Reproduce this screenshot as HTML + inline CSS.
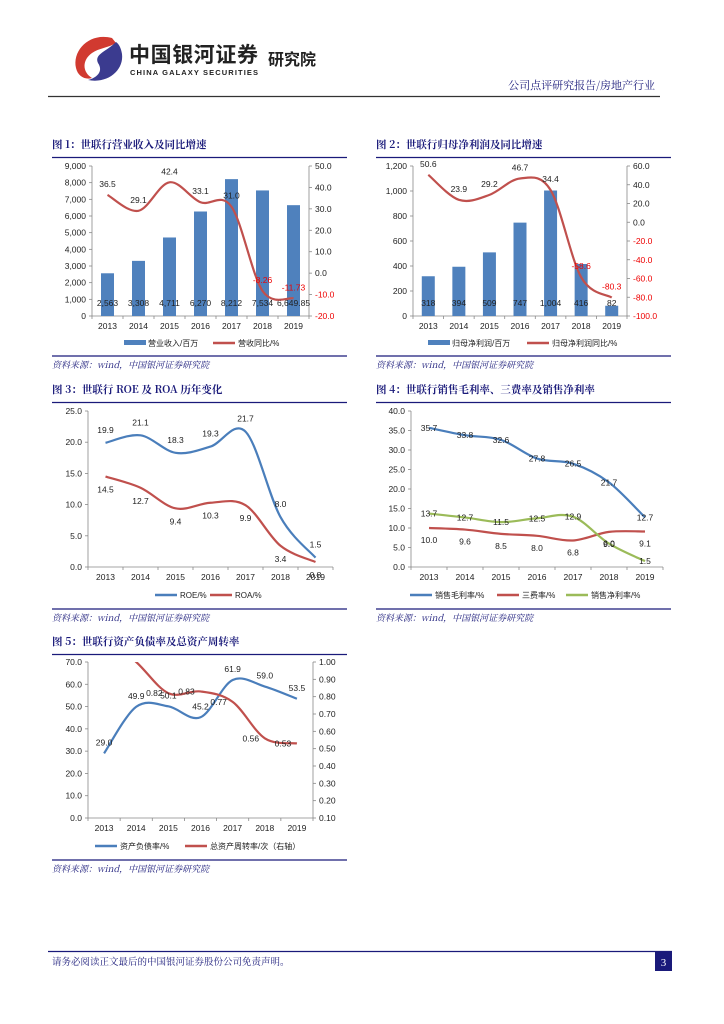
<!DOCTYPE html>
<html><head><meta charset="utf-8">
<style>
html,body{margin:0;padding:0;background:#fff;}
svg{display:block;font-family:"Liberation Sans","Noto Sans CJK SC",sans-serif;}
</style></head>
<body>
<svg id="page" width="724" height="1024" viewBox="0 0 724 1024" xmlns="http://www.w3.org/2000/svg">
<g>
  <g>
    <path d="M112,38 C90,32 72,50 76,68 C78,77 86,80 92,78 C82,72 82,60 92,53 C99,48 108,48 116,43 Z" fill="#d13a30"/>
    <path d="M116,42 C106,52 94,54 98,63 C104,72 96,78 88,80 C108,84 124,70 122,54 C121,48 119,44 116,42 Z" fill="#3b3b8f"/>
  </g>
  <text x="129" y="62" font-size="21" font-weight="bold" fill="#222" textLength="129" font-family="'Noto Sans CJK SC',sans-serif">中国银河证券</text>
  <text x="130" y="75" font-size="7.5" font-weight="bold" fill="#222" textLength="128">CHINA GALAXY SECURITIES</text>
  <text x="268" y="65" font-size="16" font-weight="bold" fill="#222" font-family="'Noto Sans CJK SC',sans-serif">研究院</text>
  <text x="655" y="89" font-size="11" fill="#1a1a7a" text-anchor="end" font-family="'Noto Serif CJK SC',serif">公司点评研究报告/房地产行业</text>
  <line x1="48" y1="96.5" x2="660" y2="96.5" stroke="#333" stroke-width="1.2"/>
</g>
<g id="charts"></g>
<g>
  <line x1="48" y1="951.5" x2="672" y2="951.5" stroke="#1a1a7a" stroke-width="1.2"/>
  <text x="52" y="965" font-size="9.5" fill="#1a1a7a" font-family="'Noto Serif CJK SC',serif">请务必阅读正文最后的中国银河证券股份公司免责声明。</text>
  <rect x="655" y="952" width="17" height="19" fill="#1a1a7a"/>
  <text x="663.5" y="966" font-size="11" fill="#fff" text-anchor="middle" font-family="'Liberation Serif',serif">3</text>
</g>
</svg>
<script>
const years = ['2013','2014','2015','2016','2017','2018','2019'];
const revenue = [2563, 3308, 4711, 6270, 8212, 7534, 6649.85];
const revenueLabels = ['2,563','3,308','4,711','6,270','8,212','7,534','6,649.85'];
const revenueYoY = [36.5, 29.1, 42.4, 33.1, 31.0, -8.26, -11.73];
const revenueYoYLabels = ['36.5','29.1','42.4','33.1','31.0','-8.26','-11.73'];
const netProfit = [318, 394, 509, 747, 1004, 416, 82];
const netProfitLabels = ['318','394','509','747','1,004','416','82'];
const netProfitYoY = [50.6, 23.9, 29.2, 46.7, 34.4, -58.6, -80.3];
const netProfitYoYLabels = ['50.6','23.9','29.2','46.7','34.4','-58.6','-80.3'];
const roe = [19.9, 21.1, 18.3, 19.3, 21.7, 8.0, 1.5];
const roa = [14.5, 12.7, 9.4, 10.3, 9.9, 3.4, 0.8];
const grossMargin = [35.7, 33.8, 32.6, 27.8, 26.5, 21.7, 12.7];
const expenseRatio = [10.0, 9.6, 8.5, 8.0, 6.8, 9.0, 9.1];
const netMargin = [13.7, 12.7, 11.5, 12.5, 12.9, 6.0, 1.5];
const debtRatio = [29.0, 49.9, 50.1, 45.2, 61.9, 59.0, 53.5];
const assetTurnover = [1.15, 1.0, 0.82, 0.83, 0.77, 0.56, 0.53];
const ticks1L = ['0','1,000','2,000','3,000','4,000','5,000','6,000','7,000','8,000','9,000'];
const ticks1R = [-20,-10,0,10,20,30,40,50];
const ticks2L = ['0','200','400','600','800','1,000','1,200'];
const ticks2R = [-100,-80,-60,-40,-20,0,20,40,60];

const NS = 'http://www.w3.org/2000/svg';
const root = document.getElementById('charts');
const BLUE = '#4f81bd', RED = '#c0504d', GREEN = '#9bbb59', LBLUE = '#4a7ebb', NAVY = '#1a1a7a';
function mk(tag, attrs, parent) {
  const e = document.createElementNS(NS, tag);
  for (const k in attrs) e.setAttribute(k, attrs[k]);
  (parent || root).appendChild(e);
  return e;
}
function txt(s, x, y, size, fill, anchor, parent) {
  const t = mk('text', {x: x, y: y, 'font-size': size, fill: fill || '#222', 'text-anchor': anchor || 'middle'}, parent);
  t.textContent = s;
  return t;
}
function smooth(pts) {
  let d = 'M' + pts[0][0] + ',' + pts[0][1];
  for (let i = 0; i < pts.length - 1; i++) {
    const p0 = pts[i - 1] || pts[i], p1 = pts[i], p2 = pts[i + 1], p3 = pts[i + 2] || p2;
    const c1x = p1[0] + (p2[0] - p0[0]) / 6, c1y = p1[1] + (p2[1] - p0[1]) / 6;
    const c2x = p2[0] - (p3[0] - p1[0]) / 6, c2y = p2[1] - (p3[1] - p1[1]) / 6;
    d += ' C' + c1x + ',' + c1y + ' ' + c2x + ',' + c2y + ' ' + p2[0] + ',' + p2[1];
  }
  return d;
}
function header(g, title, x, y, w) {
  const t = txt(title, x, y, 10.5, NAVY, 'start', g);
  t.setAttribute('font-weight', 'bold');
  t.setAttribute('font-family', "'Noto Serif CJK SC',serif");
  
  
  const l = mk('line', {x1: x, y1: y + 9.5, x2: x + w, y2: y + 9.5, stroke: NAVY, 'stroke-width': 1.2}, g);
  
  
}
function source(g, x, y, w) {
  const l = mk('line', {x1: x, y1: y, x2: x + w, y2: y, stroke: NAVY, 'stroke-width': 1.2}, g);
  
  
  const t = txt('资料来源：wind，中国银河证券研究院', x, y + 12, 9, NAVY, 'start', g);
  t.setAttribute('font-style', 'italic');
  t.setAttribute('font-family', "'Noto Serif CJK SC',serif");
  
  
}
function xAxis(g, x0, x1, y0) {
  const n = years.length, cw = (x1 - x0) / n;
  const ax = mk('line', {x1: x0, y1: y0, x2: x1, y2: y0, stroke: '#888', 'stroke-width': 0.8}, g);
  
  
  for (let i = 0; i <= n; i++) mk('line', {x1: x0 + i * cw, y1: y0, x2: x0 + i * cw, y2: y0 + 3, stroke: '#888', 'stroke-width': 0.8}, g);
  years.forEach((yr, i) => {
    const t = txt(yr, x0 + (i + 0.5) * cw, y0 + 13, 8.5, '#222', 'middle', g);
    
    
  });
  return i => x0 + (i + 0.5) * cw;
}
function yAxis(g, x, yTop, yBot, labels, side, color, minV, maxV, vals) {
  const ax = mk('line', {x1: x, y1: yTop, x2: x, y2: yBot, stroke: '#888', 'stroke-width': 0.8}, g);
  
  
  labels.forEach((lab, i) => {
    const v = vals ? vals[i] : i;
    const yy = yBot - (v - minV) / (maxV - minV) * (yBot - yTop);
    mk('line', {x1: side === 'L' ? x - 3 : x, y1: yy, x2: side === 'L' ? x : x + 3, y2: yy, stroke: '#888', 'stroke-width': 0.8}, g);
    const c = typeof color === 'function' ? color(v) : color;
    const t = txt(lab, side === 'L' ? x - 6 : x + 6, yy + 3, 8.5, c, side === 'L' ? 'end' : 'start', g);
    
    
  });
}
function scale(minV, maxV, yTop, yBot) { return v => yBot - (v - minV) / (maxV - minV) * (yBot - yTop); }
function legendLine(g, x, y, color, label, thick) {
  const l = mk('line', {x1: x, y1: y, x2: x + 22, y2: y, stroke: color, 'stroke-width': thick || 2.5}, g);
  
  
  const t = txt(label, x + 25, y + 3, 8, '#222', 'start', g);
  
  
}
function series(g, pts, color, name) {
  const p = mk('path', {d: smooth(pts), fill: 'none', stroke: color, 'stroke-width': 2.2}, g);
  
  
  return p;
}
function fmt1(v) { return v.toFixed(1); }

/* ---------- Chart 1 ---------- */
(function () {
  const g = mk('g', {});
  
  
  header(g, '图 1：世联行营业收入及同比增速', 52, 148, 295);
  const yTop = 166, yBot = 316;
  const yL = scale(0, 9000, yTop, yBot), yR = scale(-20, 50, yTop, yBot);
  yAxis(g, 92, yTop, yBot, ticks1L, 'L', '#222', 0, 9, null);
  yAxis(g, 309, yTop, yBot, ticks1R.map(v => v.toFixed(1)), 'R', v => v < 0 ? '#e00' : '#222', -20, 50, ticks1R);
  const xs = xAxis(g, 92, 309, yBot);
  revenue.forEach((v, i) => {
    const r = mk('rect', {x: xs(i) - 6.5, y: yL(v), width: 13, height: yBot - yL(v), fill: BLUE}, g);
    
    
    const t = txt(revenueLabels[i], xs(i), 306, 8.5, '#222', 'middle', g);
    
    
  });
  series(g, revenueYoY.map((v, i) => [xs(i), yR(v)]), RED, 'line-revenue-yoy');
  revenueYoY.forEach((v, i) => {
    const t = txt(revenueYoYLabels[i], xs(i), yR(v) - 8, 8.5, v < 0 ? '#e00' : '#222', 'middle', g);
    
    
  });
  const lb = mk('rect', {x: 124, y: 340, width: 22, height: 5, fill: BLUE}, g);
  
  
  const lt = txt('营业收入/百万', 148, 346, 8, '#222', 'start', g);
  
  
  legendLine(g, 213, 343, RED, '营收同比/%');
  source(g, 52, 356, 295);
})();

/* ---------- Chart 2 ---------- */
(function () {
  const g = mk('g', {});
  
  
  header(g, '图 2：世联行归母净利润及同比增速', 376, 148, 295);
  const yTop = 166, yBot = 316;
  const yL = scale(0, 1200, yTop, yBot), yR = scale(-100, 60, yTop, yBot);
  yAxis(g, 413, yTop, yBot, ticks2L, 'L', '#222', 0, 6, null);
  yAxis(g, 627, yTop, yBot, ticks2R.map(v => v.toFixed(1)), 'R', v => v < 0 ? '#e00' : '#222', -100, 60, ticks2R);
  const xs = xAxis(g, 413, 627, yBot);
  netProfit.forEach((v, i) => {
    const r = mk('rect', {x: xs(i) - 6.5, y: yL(v), width: 13, height: yBot - yL(v), fill: BLUE}, g);
    
    
    const t = txt(netProfitLabels[i], xs(i), 306, 8.5, '#222', 'middle', g);
    
    
  });
  series(g, netProfitYoY.map((v, i) => [xs(i), yR(v)]), RED, 'line-net-profit-yoy');
  netProfitYoY.forEach((v, i) => {
    const t = txt(netProfitYoYLabels[i], xs(i), yR(v) - 8, 8.5, v < 0 ? '#e00' : '#222', 'middle', g);
    
    
  });
  const lb = mk('rect', {x: 428, y: 340, width: 22, height: 5, fill: BLUE}, g);
  
  
  const lt = txt('归母净利润/百万', 452, 346, 8, '#222', 'start', g);
  
  
  legendLine(g, 527, 343, RED, '归母净利润同比/%');
  source(g, 376, 356, 295);
})();

/* ---------- Chart 3 ---------- */
(function () {
  const g = mk('g', {});
  
  
  header(g, '图 3：世联行 ROE 及 ROA 历年变化', 52, 393, 295);
  const yTop = 411, yBot = 567;
  const y = scale(0, 25, yTop, yBot);
  const tk = [0, 5, 10, 15, 20, 25];
  yAxis(g, 88, yTop, yBot, tk.map(fmt1), 'L', '#222', 0, 25, tk);
  const xs = xAxis(g, 88, 333, yBot);
  series(g, roe.map((v, i) => [xs(i), y(v)]), LBLUE, 'line-roe');
  series(g, roa.map((v, i) => [xs(i), y(v)]), RED, 'line-roa');
  roe.forEach((v, i) => {
    const t = txt(fmt1(v), xs(i), y(v) - 10, 8.5, '#222', 'middle', g);
    
    
  });
  roa.forEach((v, i) => {
    const t = txt(fmt1(v), xs(i), y(v) + 16, 8.5, '#222', 'middle', g);
    
    
  });
  legendLine(g, 155, 595, LBLUE, 'ROE/%');
  legendLine(g, 210, 595, RED, 'ROA/%');
  source(g, 52, 609, 295);
})();

/* ---------- Chart 4 ---------- */
(function () {
  const g = mk('g', {});
  
  
  header(g, '图 4：世联行销售毛利率、三费率及销售净利率', 376, 393, 295);
  const yTop = 411, yBot = 567;
  const y = scale(0, 40, yTop, yBot);
  const tk = [0, 5, 10, 15, 20, 25, 30, 35, 40];
  yAxis(g, 411, yTop, yBot, tk.map(fmt1), 'L', '#222', 0, 40, tk);
  const xs = xAxis(g, 411, 663, yBot);
  series(g, grossMargin.map((v, i) => [xs(i), y(v)]), LBLUE, 'line-gross-margin');
  series(g, expenseRatio.map((v, i) => [xs(i), y(v)]), RED, 'line-expense-ratio');
  series(g, netMargin.map((v, i) => [xs(i), y(v)]), GREEN, 'line-net-margin');
  grossMargin.forEach((v, i) => {
    const t = txt(fmt1(v), xs(i), y(v) + 3, 8.5, '#222', 'middle', g);
    
    
  });
  netMargin.forEach((v, i) => {
    const t = txt(fmt1(v), xs(i), y(v) + 3, 8.5, '#222', 'middle', g);
    
    
  });
  expenseRatio.forEach((v, i) => {
    const t = txt(fmt1(v), xs(i), y(v) + 15, 8.5, '#222', 'middle', g);
    
    
  });
  legendLine(g, 410, 595, LBLUE, '销售毛利率/%');
  legendLine(g, 497, 595, RED, '三费率/%');
  legendLine(g, 566, 595, GREEN, '销售净利率/%');
  source(g, 376, 609, 295);
})();

/* ---------- Chart 5 ---------- */
(function () {
  const g = mk('g', {});
  
  
  header(g, '图 5：世联行资产负债率及总资产周转率', 52, 645, 295);
  const yTop = 662, yBot = 818;
  const yL = scale(0, 70, yTop, yBot), yR = scale(0.1, 1.0, yTop, yBot);
  const tkL = [0, 10, 20, 30, 40, 50, 60, 70];
  const tkR = [0.1, 0.2, 0.3, 0.4, 0.5, 0.6, 0.7, 0.8, 0.9, 1.0];
  yAxis(g, 88, yTop, yBot, tkL.map(fmt1), 'L', '#222', 0, 70, tkL);
  yAxis(g, 313, yTop, yBot, tkR.map(v => v.toFixed(2)), 'R', '#222', 0.1, 1.0, tkR);
  const xs = xAxis(g, 88, 313, yBot);
  const cp = mk('clipPath', {id: 'clip5'}, g);
  mk('rect', {x: 88, y: yTop, width: 225, height: yBot - yTop}, cp);
  series(g, debtRatio.map((v, i) => [xs(i), yL(v)]), LBLUE, 'line-debt-ratio');
  const rl = series(g, assetTurnover.map((v, i) => [xs(i), yR(v)]), RED, 'line-asset-turnover');
  rl.setAttribute('clip-path', 'url(#clip5)');
  debtRatio.forEach((v, i) => {
    const t = txt(fmt1(v), xs(i), yL(v) - 8, 8.5, '#222', 'middle', g);
    
    
  });
  assetTurnover.forEach((v, i) => {
    if (v >= 1.0) return;
    const t = txt(v.toFixed(2), xs(i) - 14, yR(v) + 3, 8.5, '#222', 'middle', g);
    
    
  });
  legendLine(g, 95, 846, LBLUE, '资产负债率/%');
  legendLine(g, 185, 846, RED, '总资产周转率/次（右轴）');
  source(g, 52, 860, 295);
})();
</script>
</body></html>
